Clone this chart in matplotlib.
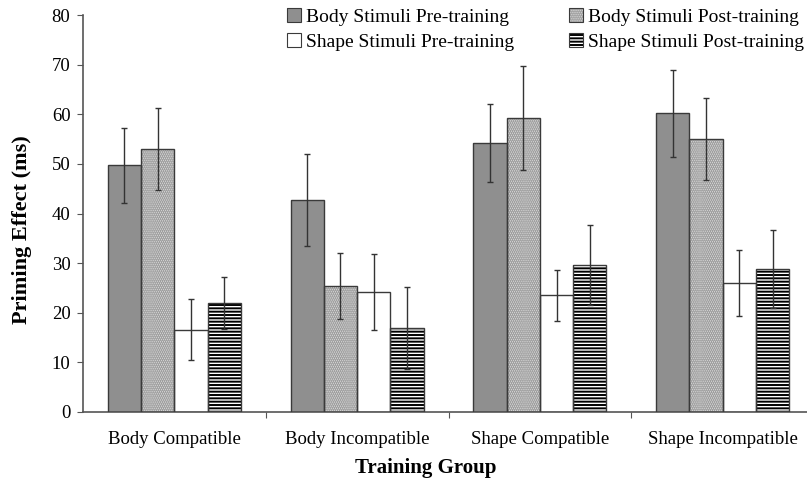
import numpy as np
import matplotlib
matplotlib.use("Agg")
import matplotlib.pyplot as plt
from matplotlib.patches import Patch

groups = ["Body Compatible", "Body Incompatible", "Shape Compatible", "Shape Incompatible"]
series = [
    "Body Stimuli Pre-training",
    "Body Stimuli Post-training",
    "Shape Stimuli Pre-training",
    "Shape Stimuli Post-training",
]
body_pre = [49.7, 42.7, 54.2, 60.2]
body_post = [53.0, 25.4, 59.2, 55.0]
shape_pre = [16.6, 24.2, 23.5, 26.0]
shape_post = [22.0, 16.9, 29.6, 28.8]
body_pre_err = [7.6, 9.2, 7.9, 8.8]
body_post_err = [8.3, 6.6, 10.5, 8.3]
shape_pre_err = [6.2, 7.7, 5.1, 6.7]
shape_post_err = [5.3, 8.3, 8.1, 7.9]
y_ticks = [0, 10, 20, 30, 40, 50, 60, 70, 80]

plt.rcParams["font.family"] = ["Liberation Serif", "DejaVu Serif"]
plt.rcParams["hatch.linewidth"] = 1.4

edge = "#3a3a3a"
styles = [
    dict(face="#8f8f8f", hatch=None, hcolor=None),
    dict(face="#d9d9d9", hatch="........", hcolor="#9a9a9a"),
    dict(face="white", hatch=None, hcolor=None),
    dict(face="white", hatch="-----", hcolor="black"),
]
values = [body_pre, body_post, shape_pre, shape_post]
errors = [body_pre_err, body_post_err, shape_pre_err, shape_post_err]

fig = plt.figure(figsize=(8.07, 4.79), dpi=100)
ax = fig.add_axes([83 / 807, 67 / 479, 731 / 807, 397 / 479])

x = np.arange(len(groups))
width = 0.182
handles = []
for i, (vals, errs, st) in enumerate(zip(values, errors, styles)):
    pos = x + (i - 1.5) * width
    if st["hatch"]:
        ax.bar(pos, vals, width, color=st["face"], hatch=st["hatch"],
               edgecolor=st["hcolor"], linewidth=0, zorder=2)
        fill = Patch(facecolor=st["face"], hatch=st["hatch"],
                     edgecolor=st["hcolor"], linewidth=0)
    else:
        ax.bar(pos, vals, width, color=st["face"], linewidth=0, zorder=2)
        fill = Patch(facecolor=st["face"], linewidth=0)
    ax.bar(pos, vals, width, fill=False, edgecolor=edge, linewidth=1.0, zorder=3)
    ax.errorbar(pos, vals, yerr=errs, fmt="none", ecolor="#333333",
                elinewidth=1.0, capsize=2.5, capthick=1.0, zorder=4)
    # fill and outline overlaid, so the hatch keeps its own colour in the legend
    handles.append((fill, Patch(fill=False, edgecolor=edge, linewidth=0.8)))

ax.set_xlim(-0.5, 3.5)
ax.set_ylim(0, 80)
ax.set_yticks(y_ticks)
ax.set_xticks(x + 0.5)
ax.set_xticklabels([])
ax.set_xticks(x, minor=True)
ax.set_xticklabels(groups, minor=True, fontsize=13.5)
ax.tick_params(axis="x", which="minor", length=0, pad=14)
ax.tick_params(axis="x", which="major", length=4, direction="out", color="#555555")
ax.tick_params(axis="y", length=4, labelsize=13.5, color="#555555", pad=5)
for side in ["top", "right"]:
    ax.spines[side].set_visible(False)
for side in ["left", "bottom"]:
    ax.spines[side].set_color("#555555")
    ax.spines[side].set_linewidth(1.2)

ax.set_ylabel("Priming Effect (ms)", fontsize=16, fontweight="bold", va="center")
ax.yaxis.set_label_coords(-0.083, 0.46)
ax.set_xlabel("Training Group", fontsize=15, fontweight="bold", va="center")
ax.xaxis.set_label_coords(0.469, -0.14)

# row-wise order like the reference legend
order = [0, 2, 1, 3]
ax.legend([handles[k] for k in order], [series[k] for k in order], ncol=2,
          frameon=False, fontsize=14, loc="upper left",
          bbox_to_anchor=(287 / 807, 1 - 8 / 479), bbox_transform=fig.transFigure,
          handlelength=0.7, handleheight=0.7, handletextpad=0.3,
          columnspacing=2.8, labelspacing=0.4, borderpad=0, borderaxespad=0)

fig.savefig("out.png", dpi=100)
